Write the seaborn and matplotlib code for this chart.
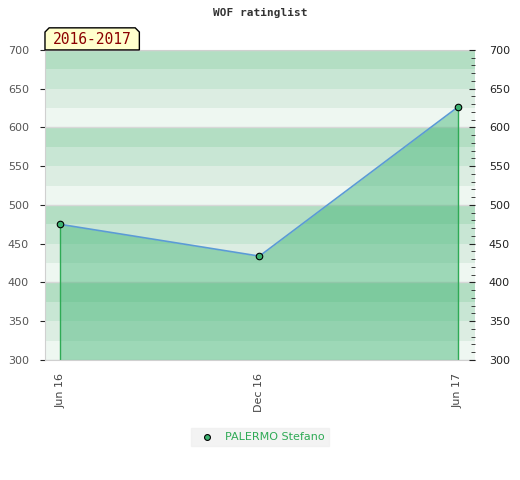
import pandas as pd
import numpy as np
import matplotlib.pyplot as plt
import matplotlib.dates as mdates
from matplotlib.patches import Polygon
import seaborn as sns

# data
dates = ["2016-06-01", "2016-12-01", "2017-06-01"]
ratings = [475, 434, 626]
tick_labels = ["Jun 16", "Dec 16", "Jun 17"]
player = "PALERMO Stefano"
season = "2016-2017"

df = pd.DataFrame({"date": pd.to_datetime(dates), "rating": ratings})

sns.set_style("white")
plt.rcParams["font.family"] = ["DejaVu Sans"]

fig = plt.figure(figsize=(5.2, 4.8), dpi=100)
ax = fig.add_axes([0.0865, 0.25, 0.8269, 0.646])

x0 = pd.Timestamp("2016-05-18")
x1 = pd.Timestamp("2017-06-17")
ax.set_xlim(x0, x1)
ax.set_ylim(300, 700)

# striped background
band_cols = ["#eef7f1", "#dcede2", "#c8e6d4", "#b3dec3"]
for lo in range(300, 700, 25):
    ax.axhspan(lo, lo + 25, color=band_cols[(lo // 25) % 4], lw=0, zorder=0)
for y in range(300, 701, 100):
    ax.axhline(y, color="#d8d8d8", lw=1, zorder=0.5)

# area under the line
ax.fill_between(df["date"], df["rating"], 300, color="#3cb371", alpha=0.45,
                lw=0, zorder=1)
ax.vlines([df["date"].iloc[0], df["date"].iloc[-1]], 300,
          [df["rating"].iloc[0], df["rating"].iloc[-1]],
          color="#2eaa55", lw=1, zorder=2)

sns.lineplot(data=df, x="date", y="rating", ax=ax, color="#5b9bd5", lw=1.2,
             zorder=3)
sns.scatterplot(data=df, x="date", y="rating", ax=ax, color="#3cb371",
                edgecolor="black", linewidth=0.8, s=22, zorder=4,
                label=player)

ax.set_xlabel("")
ax.set_ylabel("")
ax.set_xticks(df["date"])
ax.set_xticklabels(tick_labels, rotation=90, fontsize=8, color="#444444")

ax.set_yticks(range(300, 701, 50))
ax.tick_params(axis="y", left=False, labelsize=8, labelcolor="#555555", pad=8)
ax.tick_params(axis="x", bottom=False, pad=6)

for s in ["left", "bottom", "top"]:
    ax.spines[s].set_color("#d0d0d0")
ax.spines["right"].set_visible(False)

# right axis with minor ticks
ax2 = ax.twinx()
ax2.set_ylim(300, 700)
ax2.set_yticks(range(300, 701, 50))
ax2.set_yticks(range(300, 701, 10), minor=True)
ax2.tick_params(axis="y", which="major", direction="in", length=4,
                labelsize=8, labelcolor="#222222", pad=10, color="#222222")
ax2.tick_params(axis="y", which="minor", direction="in", length=3,
                color="#222222")
for s in ax2.spines.values():
    s.set_visible(False)

fig.text(0.5, 0.972, "WOF ratinglist", ha="center", va="center",
         fontsize=8, fontweight="bold", family="DejaVu Sans Mono",
         color="#333333")

# season badge
bx0, bx1 = 0.0865, 0.268
by0, by1 = 0.896, 0.942
c = 0.008
badge = Polygon([(bx0, by0), (bx1, by0), (bx1, by1 - c * 1.1), (bx1 - c, by1),
                 (bx0 + c, by1), (bx0, by1 - c * 1.1)], closed=True,
                transform=fig.transFigure, facecolor="#ffffcc",
                edgecolor="black", lw=1, zorder=10)
fig.patches.append(badge)
fig.text((bx0 + bx1) / 2, (by0 + by1) / 2 - 0.002, season, ha="center",
         va="center", fontsize=10.5, color="#8b0000", family="DejaVu Sans Mono",
         zorder=11)

leg = ax.legend(loc="upper center", bbox_to_anchor=(0.5, -0.2), frameon=True,
                fontsize=8, handletextpad=0.6, borderpad=0.4, fancybox=False,
                markerscale=0.9)
leg.get_frame().set_facecolor("#f0f0f0")
leg.get_frame().set_edgecolor("#f0f0f0")
for t in leg.get_texts():
    t.set_color("#2eaa55")

fig.savefig("out.png", dpi=100)
